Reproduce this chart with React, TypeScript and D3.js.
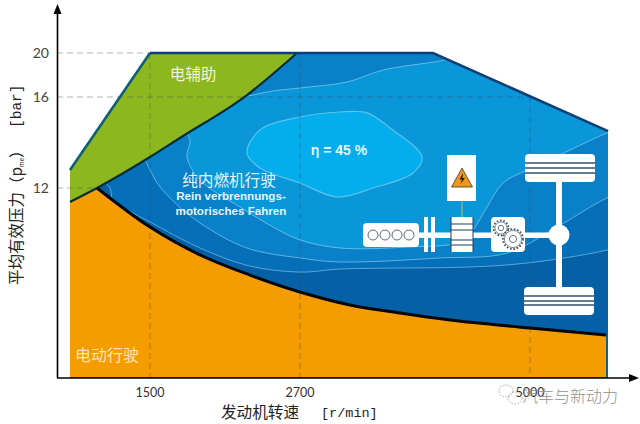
import React from "react";
import * as d3 from "d3";

const rpmTicks = [1500, 2700, 5000];
const barTicks = [12, 16, 20];

// Operating envelope [rpm, bar]
const envelopeTop: [number, number][] = [[860, 12.79], [1500, 20], [4030, 20], [5780, 14.5]];
const envelopeFloor: [number, number][] = [[5780, 0], [860, 0]];
// Boundary between electric assist and engine-only area
const assistEdge: [number, number][] = [[860, 11.12], [1076, 12], [1500, 13.36], [1740, 14.2], [2276, 16.18], [2676, 20]];
// Boundary of the electric driving area
const electricStart: [number, number] = [860, 11.12];
const electricEdge: [number, number][] = [[1076, 12], [1500, 9.53], [1900, 7.77], [2300, 6.5], [2700, 5.43], [3200, 4.61], [3700, 4.1], [4200, 3.66], [5000, 3.16], [5760, 2.71]];

// Efficiency contours, innermost first
const contour45: [number, number][] = [[2276, 13.54], [2380, 14.55], [2700, 15.12], [3100, 15.34], [3370, 15.3], [3600, 14.64], [3920, 13.36], [3830, 12.66], [3430, 12], [3070, 11.43], [2700, 12.22], [2380, 12.88]];
const contourB: [number, number][] = [[1740, 14.99], [2396, 16.36], [2700, 16.82], [3170, 17.36], [3530, 18.45], [4100, 19.27], [4400, 19.82], [4900, 19.36], [6100, 15.43], [6000, 14.77], [5770, 14.42], [5400, 13.67], [4970, 12.79], [4730, 12.22], [4570, 10.8], [4430, 9.35], [4300, 8.59], [3770, 8.27], [3100, 8.21], [2700, 8.72], [2484, 9.54], [2220, 10.8], [1900, 12.35], [1796, 13.36], [1820, 14.11]];
const contourC: [number, number][] = [[1420, 14.55], [1900, 19.36], [2620, 21.6], [4100, 21.6], [6000, 15.43], [6000, 11.87], [5770, 11.37], [5270, 9.54], [4770, 7.89], [4100, 7.58], [3100, 7.33], [2700, 7.58], [2276, 8.21], [1900, 9.79], [1660, 11.37], [1530, 12.48]];
const contourD: [number, number][] = [[1060, 12.79], [1500, 15.87], [2700, 22.1], [6100, 22.1], [6100, 8.72], [5770, 8.08], [4770, 7.14], [3100, 6.88], [2700, 6.69], [2300, 7.07], [1900, 8.21], [1500, 9.85], [1364, 10.42], [1204, 11.24], [1180, 12]];

const x = d3.scaleLinear().domain([860, 1500, 2700, 5000, 5780]).range([70, 150, 300, 530, 608]);
const y = d3.scaleLinear().domain([0, 12, 16, 20]).range([378, 188, 97, 53]);

const straight = d3.line<[number, number]>().x(d => x(d[0])).y(d => y(d[1]));
const smooth = d3.line<[number, number]>().x(d => x(d[0])).y(d => y(d[1])).curve(d3.curveMonotoneX);
const closedCurve = d3.line<[number, number]>().x(d => x(d[0])).y(d => y(d[1])).curve(d3.curveCatmullRomClosed.alpha(0.5));

const cjk = "'Noto Sans CJK SC'";
const dashColor = "#3c4650";

function Gear({ cx, cy, r }: { cx: number; cy: number; r: number }) {
  return (
    <g fill="#fff" stroke="#4a5a68">
      <circle cx={cx} cy={cy} r={r} strokeWidth={1.8} strokeDasharray="1.7 1.7" />
      <circle cx={cx} cy={cy} r={r - 1.4} strokeWidth={0.7} />
      <circle cx={cx} cy={cy} r={r * 0.36} strokeWidth={0.8} />
    </g>
  );
}

function Tyre({ tx, ty, lines }: { tx: number; ty: number; lines: number[] }) {
  return (
    <g>
      <rect x={tx} y={ty} width={70} height={28} rx={4} fill="#fff" />
      {lines.map(l => <line key={l} x1={tx} x2={tx + 70} y1={ty + l} y2={ty + l} stroke="#33506e" strokeWidth={1.3} />)}
    </g>
  );
}

export default function App() {
  const outline = [...envelopeTop, ...envelopeFloor];
  const green = [envelopeTop[0], envelopeTop[1], [2676, 20] as [number, number]];
  const greenPath = `${straight(green)}L${smooth(assistEdge.slice().reverse())!.slice(1)}Z`;
  const orangePath = smooth(electricEdge)!;
  const orangeArea = `M${x(electricStart[0])},${y(electricStart[1])}L${orangePath.slice(1)}L${x(5760)},${y(0) - 1}L${x(860)},${y(0) - 1}Z`;
  return (
    <svg width={640} height={424} style={{ position: "absolute", left: 0, top: 0, background: "#fff" }}>
      <defs>
        <clipPath id="env"><path d={straight(outline)!} /></clipPath>
      </defs>

      <g clipPath="url(#env)">
        <rect x={60} y={40} width={560} height={340} fill="#0560a6" />
        <path d={closedCurve(contourD)!} fill="#066fb9" stroke="#5aa6d8" strokeWidth={1} />
        <path d={closedCurve(contourC)!} fill="#0a80c9" stroke="#5fb2e0" strokeWidth={1} />
        <path d={closedCurve(contourB)!} fill="#0997da" stroke="#63bce6" strokeWidth={1} />
        <path d={closedCurve(contour45)!} fill="#04aeec" stroke="#5cc3ea" strokeWidth={1.2} />
      </g>

      <path d={greenPath} fill="#8cb71f" />
      <path d={orangeArea} fill="#f59c00" />

      {/* reference lines */}
      {barTicks.map(b => (
        <line key={b} x1={57} y1={y(b)} x2={b === 20 ? x(1500) : b === 16 ? x(5000) : x(1076)} y2={y(b)}
          stroke={dashColor} strokeOpacity={0.45} strokeWidth={0.9} strokeDasharray="6 4" />
      ))}
      {rpmTicks.map(r => (
        <line key={r} x1={x(r)} y1={r === 5000 ? y(16) : y(20)} x2={x(r)} y2={y(0)}
          stroke={dashColor} strokeOpacity={0.45} strokeWidth={0.9} strokeDasharray="6 4" />
      ))}

      {/* boundaries */}
      <path d={smooth(assistEdge)!} fill="none" stroke="#0a2f3a" strokeWidth={2.2} />
      <path d={orangePath} fill="none" stroke="#060606" strokeWidth={3} />
      <path d={straight(envelopeTop.slice(0, 2))!} fill="none" stroke="#0f5f78" strokeWidth={2.6} />
      <path d={straight(envelopeTop.slice(1))!} fill="none" stroke="#0b3f78" strokeWidth={2.6} />

      {/* axes */}
      <line x1={57.5} y1={378} x2={57.5} y2={12} stroke="#000" strokeWidth={1.6} />
      <path d="M57.5,4 L53.5,14 L61.5,14 Z" fill="#000" />
      <line x1={57} y1={378} x2={630} y2={378} stroke="#000" strokeWidth={1.6} />
      <path d="M639,378 L629,374 L629,382 Z" fill="#000" />

      {barTicks.map(b => (
        <text key={b} x={49} y={y(b) + 5} textAnchor="end" fontFamily="Lato" fontSize={14} fill="#444">{b}</text>
      ))}
      {rpmTicks.map(r => (
        <text key={r} x={x(r)} y={397} textAnchor="middle" fontFamily="Lato" fontSize={12.5} fill="#333">{r}</text>
      ))}

      {/* axis titles */}
      <text transform="translate(22,285) rotate(-90)" fontFamily={cjk} fontSize={15.5} fill="#222">
        平均有效压力（p<tspan fontSize={6} dy={2}>me</tspan><tspan dy={-2}>）</tspan>
      </text>
      <text transform="translate(21,128) rotate(-90)" fontFamily="'Liberation Mono'" fontSize={14.5} fill="#222">[bar]</text>
      <text x={221} y={418} fontFamily={cjk} fontSize={15.6} fill="#222">发动机转速</text>
      <text x={321} y={417} fontFamily="'Liberation Mono'" fontSize={13.5} fill="#222">[r/min]</text>

      {/* labels */}
      <text x={229} y={185.5} textAnchor="middle" fontFamily={cjk} fontSize={15.6} fill="#e6f4fb">纯内燃机行驶</text>
      <text x={193} y={80} textAnchor="middle" fontFamily={cjk} fontSize={15.5} fill="#f2f5dc">电辅助</text>
      <text x={231} y={199.5} textAnchor="middle" fontFamily="'Liberation Sans'" fontWeight={700} fontSize={11.6} fill="#e6f4fb">Rein verbrennungs-</text>
      <text x={231} y={215} textAnchor="middle" fontFamily="'Liberation Sans'" fontWeight={700} fontSize={11.6} fill="#e6f4fb">motorisches Fahren</text>
      <text x={339} y={155} textAnchor="middle" fontFamily="'Liberation Sans'" fontWeight={700} fontSize={14} fill="#e6f6fd">η = 45 %</text>
      <text x={75} y={361} fontFamily={cjk} fontSize={16} fill="#fde6b4">电动行驶</text>

      {/* powertrain sketch */}
      <g>
        <rect x={419} y={232.5} width={135} height={5.5} fill="#fff" />
        <rect x={363} y={223} width={56} height={24} rx={4} fill="#fff" />
        {[373, 385, 397, 409].map(c => <circle key={c} cx={c} cy={235} r={5} fill="#fff" stroke="#4a5a68" strokeWidth={0.9} />)}
        <rect x={424} y={217} width={4} height={35} fill="#fff" />
        <rect x={431} y={217} width={4} height={35} fill="#fff" />
        <rect x={447} y={155} width={29} height={46} fill="#fff" />
        <line x1={462} x2={462} y1={201} y2={217} stroke="#8fb06a" strokeWidth={1.6} />
        <path d="M462,168 L451.5,187 L472.5,187 Z" fill="#f0961a" stroke="#3a3a3a" strokeWidth={0.8} strokeLinejoin="round" />
        <path d="M463,173 L459.5,179.5 L462,179.5 L460.5,184 L465,178 L462.5,178 Z" fill="#222" />
        <rect x={451} y={217} width={22} height={35} fill="#fff" />
        {[224, 230, 240, 245].map(l => <line key={l} x1={451} x2={473} y1={l} y2={l} stroke="#33506e" strokeWidth={1.1} />)}
        <line x1={451} x2={451} y1={217} y2={252} stroke="#1f3f66" strokeWidth={1} />
        <line x1={473} x2={473} y1={217} y2={252} stroke="#1f3f66" strokeWidth={1} />
        <rect x={491} y={217} width={34} height={35} rx={4} fill="#fff" />
        <Gear cx={501} cy={228} r={7.5} />
        <Gear cx={513} cy={239} r={10} />
        <rect x={556} y={182} width={6} height={106} fill="#fff" />
        <circle cx={559} cy={235} r={10.5} fill="#fff" />
        <Tyre tx={525} ty={154} lines={[9, 14, 19]} />
        <Tyre tx={524} ty={287} lines={[9, 14, 18]} />
      </g>

      {/* watermark */}
      <g fill="none" stroke="#a8a8a8" strokeWidth={0.8}>
        <ellipse cx={506} cy={391} rx={7} ry={6} strokeDasharray="2 1" />
        <ellipse cx={515} cy={398} rx={7} ry={6} strokeDasharray="2 1" />
      </g>
      <text x={522} y={402} fontFamily={cjk} fontSize={16} fontWeight={300} fill="#8f8f8f">汽车与新动力</text>
    </svg>
  );
}
